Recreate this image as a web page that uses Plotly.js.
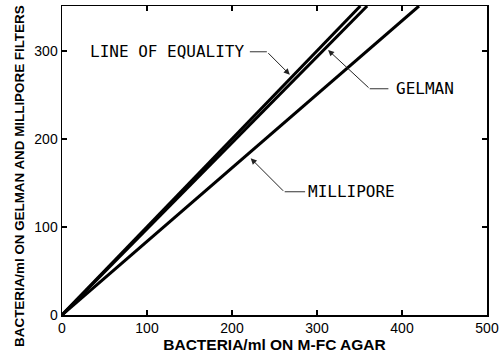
<!DOCTYPE html>
<html>
<head>
<meta charset="utf-8">
<script src="https://cdn.plot.ly/plotly-3.0.1.min.js"></script>
<style>html,body{margin:0;padding:0;background:#fff;}#chart{width:500px;height:356px;}</style>
</head>
<body>
<div id="chart"></div>
<script>
// Data (straight lines through the origin)
const seriesNames = ["LINE OF EQUALITY", "GELMAN", "MILLIPORE"];
const equalityX = [0, 351];
const equalityY = [0, 351];
const gelmanX = [0, 359];
const gelmanY = [0, 351];
const milliporeX = [0, 420];
const milliporeY = [0, 351];
const xTicks = [0, 100, 200, 300, 400, 500];
const yTicks = [0, 100, 200, 300];

const lineStyle = {color: '#000', width: 3};
const traces = [
  {x: equalityX, y: equalityY, name: seriesNames[0], mode: 'lines', line: lineStyle, hoverinfo: 'skip'},
  {x: gelmanX, y: gelmanY, name: seriesNames[1], mode: 'lines', line: lineStyle, hoverinfo: 'skip'},
  {x: milliporeX, y: milliporeY, name: seriesNames[2], mode: 'lines', line: lineStyle, hoverinfo: 'skip'}
];

const tickFont = {family: '"Liberation Sans Narrow", "Arial Narrow", "Liberation Sans", Arial, sans-serif', size: 14, color: '#000'};
const labelFont = {family: '"DejaVu Sans Mono", monospace', size: 16, color: '#000'};
const titleFont = {family: '"Liberation Sans", Arial, sans-serif', size: 15.5, color: '#000', weight: 700};

const axisCommon = {
  showgrid: false, zeroline: false, showline: true, linecolor: '#000', linewidth: 1.5,
  mirror: 'ticks', ticks: 'inside', ticklen: 5, tickwidth: 1.5, tickcolor: '#000',
  tickfont: tickFont, fixedrange: true
};

const leader = {color: '#333', width: 1};
const layout = {
  width: 500, height: 356,
  margin: {l: 62, r: 13, t: 6, b: 41},
  paper_bgcolor: '#fff', plot_bgcolor: '#fff',
  showlegend: false,
  xaxis: Object.assign({}, axisCommon, {
    range: [0, 500], tickvals: xTicks, ticktext: xTicks.map(String),
    title: {text: 'BACTERIA/ml ON M-FC AGAR', font: titleFont, standoff: 3}
  }),
  yaxis: Object.assign({}, axisCommon, {
    range: [0, 351], tickvals: yTicks, ticktext: yTicks.map(String)
  }),
  shapes: [
    {type: 'line', xref: 'x', yref: 'y', x0: 221, x1: 241, y0: 299, y1: 299, line: leader},
    {type: 'line', xref: 'x', yref: 'y', x0: 362, x1: 384, y0: 257, y1: 257, line: leader},
    {type: 'line', xref: 'x', yref: 'y', x0: 262, x1: 286, y0: 140, y1: 140, line: leader}
  ],
  annotations: [
    {xref: 'paper', yref: 'paper', x: -0.099, y: 0.45, text: 'BACTERIA/ml ON GELMAN AND MILLIPORE FILTERS',
     textangle: -90, showarrow: false, font: {family: titleFont.family, size: 13.4, color: '#000', weight: 700},
     xanchor: 'center', yanchor: 'middle'},
    {xref: 'x', yref: 'y', x: 123, y: 299, text: seriesNames[0], showarrow: false, font: labelFont, xanchor: 'center', yanchor: 'middle'},
    {xref: 'x', yref: 'y', x: 427, y: 257, text: seriesNames[1], showarrow: false, font: labelFont, xanchor: 'center', yanchor: 'middle'},
    {xref: 'x', yref: 'y', x: 341, y: 140, text: seriesNames[2], showarrow: false, font: labelFont, xanchor: 'center', yanchor: 'middle'},
    {xref: 'x', yref: 'y', x: 268, y: 273, text: '', showarrow: true, ax: -23, ay: -23, arrowhead: 2, arrowsize: 1.2, arrowwidth: 1, arrowcolor: '#222', standoff: 0},
    {xref: 'x', yref: 'y', x: 313, y: 301, text: '', showarrow: true, ax: 42, ay: 39, arrowhead: 2, arrowsize: 1.2, arrowwidth: 1, arrowcolor: '#222', standoff: 0},
    {xref: 'x', yref: 'y', x: 222, y: 178, text: '', showarrow: true, ax: 34, ay: 34, arrowhead: 2, arrowsize: 1.2, arrowwidth: 1, arrowcolor: '#222', standoff: 0}
  ]
};

Plotly.newPlot('chart', traces, layout, {displayModeBar: false, staticPlot: true});
</script>
</body>
</html>
